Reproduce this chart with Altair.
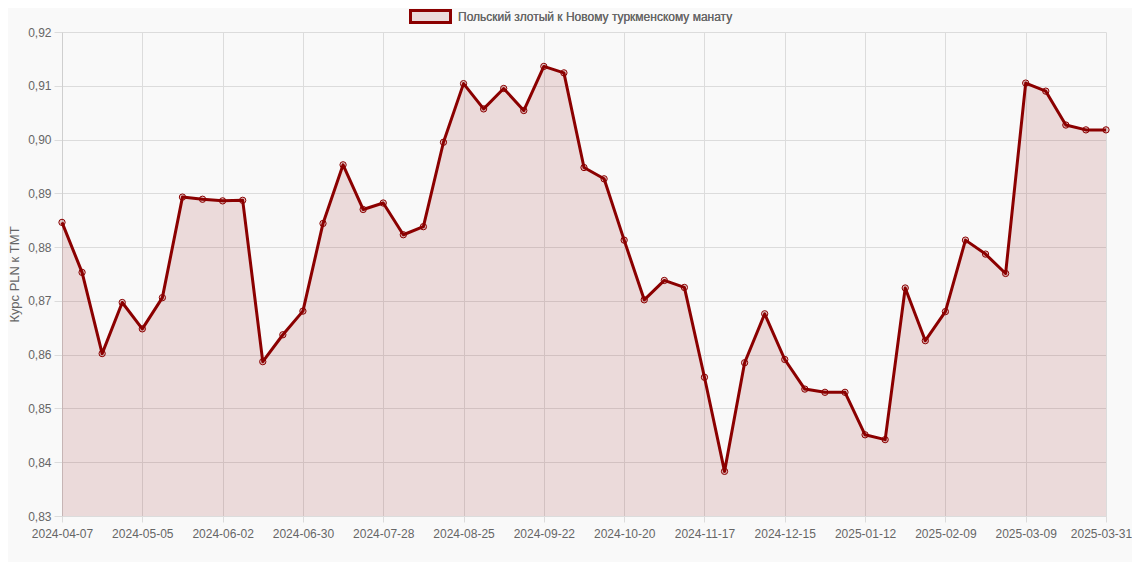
import pandas as pd
import altair as alt

# weekly PLN -> TMT rates
dates = [
    '2024-04-07', '2024-04-14', '2024-04-21', '2024-04-28', '2024-05-05', '2024-05-12',
    '2024-05-19', '2024-05-26', '2024-06-02', '2024-06-09', '2024-06-16', '2024-06-23',
    '2024-06-30', '2024-07-07', '2024-07-14', '2024-07-21', '2024-07-28', '2024-08-04',
    '2024-08-11', '2024-08-18', '2024-08-25', '2024-09-01', '2024-09-08', '2024-09-15',
    '2024-09-22', '2024-09-29', '2024-10-06', '2024-10-13', '2024-10-20', '2024-10-27',
    '2024-11-03', '2024-11-10', '2024-11-17', '2024-11-24', '2024-12-01', '2024-12-08',
    '2024-12-15', '2024-12-22', '2024-12-29', '2025-01-05', '2025-01-12', '2025-01-19',
    '2025-01-26', '2025-02-02', '2025-02-09', '2025-02-16', '2025-02-23', '2025-03-02',
    '2025-03-09', '2025-03-16', '2025-03-23', '2025-03-30', '2025-03-31',
]
rates = [
    0.8846, 0.8753, 0.8602, 0.8697, 0.8648, 0.8706,
    0.8893, 0.8889, 0.8886, 0.8887, 0.8587, 0.8637,
    0.8681, 0.8844, 0.8953, 0.8870, 0.8882, 0.8823,
    0.8838, 0.8995, 0.9104, 0.9057, 0.9095, 0.9054,
    0.9136, 0.9124, 0.8948, 0.8927, 0.8813, 0.8702,
    0.8738, 0.8725, 0.8558, 0.8383, 0.8585, 0.8676,
    0.8591, 0.8536, 0.8530, 0.8530, 0.8451, 0.8442,
    0.8724, 0.8626, 0.8680, 0.8813, 0.8787, 0.8751,
    0.9105, 0.9090, 0.9027, 0.9018, 0.9018,
]
x_ticks = [
    '2024-04-07', '2024-05-05', '2024-06-02', '2024-06-30', '2024-07-28', '2024-08-25',
    '2024-09-22', '2024-10-20', '2024-11-17', '2024-12-15', '2025-01-12', '2025-02-09',
    '2025-03-09', '2025-03-31',
]
y_ticks = [0.83, 0.84, 0.85, 0.86, 0.87, 0.88, 0.89, 0.90, 0.91, 0.92]
series_name = 'Польский злотый к Новому туркменскому манату'

data = pd.DataFrame({'date': dates, 'rate': rates, 'series': series_name})

line_color = '#8b0000'
fill_color = 'rgba(139, 0, 0, 0.12)'
font = 'Liberation Sans'

legend = alt.Legend(
    title='', orient='none', legendX=347, legendY=-37, padding=0,
    symbolType='M-1,-0.3L1,-0.3L1,0.3L-1,0.3Z', symbolSize=1600,
    symbolStrokeWidth=3, symbolOpacity=1, labelOffset=6, labelLimit=0,
    labelFont=font, labelFontSize=12, labelColor='#666',
)

# nudge the last date label a little so it stays inside the page
last_label_shift = {'condition': {'test': "datum.value == '2025-03-31'", 'value': -5}, 'value': 0}

x_enc = alt.X('date:O', sort=None, title='',
              scale=alt.Scale(type='point', padding=0),
              axis=alt.Axis(values=x_ticks, labelAngle=0, grid=True, gridColor='#dcdcdc',
                            domainColor='#dcdcdc', tickColor='#dcdcdc', tickSize=6,
                            labelPadding=6, labelFont=font, labelFontSize=12,
                            labelColor='#666', labelOverlap=False, labelBound=False,
                            labelOffset=last_label_shift))
y_enc = alt.Y('rate:Q', title='Курс PLN к TMT',
              scale=alt.Scale(domain=[0.83, 0.92], zero=False, nice=False),
              axis=alt.Axis(values=y_ticks, grid=True, gridColor='#dcdcdc',
                            domainColor='#cfcfcf', tickColor='#dcdcdc', tickSize=8,
                            labelPadding=3, labelFont=font, labelFontSize=12, labelColor='#666',
                            labelExpr="replace(format(datum.value, '.2f'), '.', ',')",
                            titleFont=font, titleFontSize=13, titleFontWeight='normal',
                            titleColor='#666', titlePadding=6))

area = alt.Chart(data).mark_area(opacity=1, clip=True).encode(
    x=x_enc, y=y_enc,
    fill=alt.Fill('series:N', scale=alt.Scale(range=[fill_color]), legend=legend),
)
line = alt.Chart(data).mark_line(strokeWidth=3, strokeJoin='round').encode(
    x=x_enc, y=y_enc,
    stroke=alt.Stroke('series:N', scale=alt.Scale(range=[line_color]), legend=legend),
)
points = alt.Chart(data).mark_point(filled=True, fill='rgba(139, 0, 0, 0.2)', stroke=line_color,
                                    strokeWidth=1, size=40, opacity=1).encode(
    x=x_enc, y=y_enc,
)

chart = alt.layer(area, line, points).properties(
    width=1044, height=484,
    autosize=alt.AutoSizeParams(type='none'),
    padding={'left': 54, 'top': 24, 'right': 26, 'bottom': 46},
    background='#f9f9f9',
).configure_view(strokeWidth=0)

chart.save("out.html", embed_options={"renderer": "svg", "actions": False})
